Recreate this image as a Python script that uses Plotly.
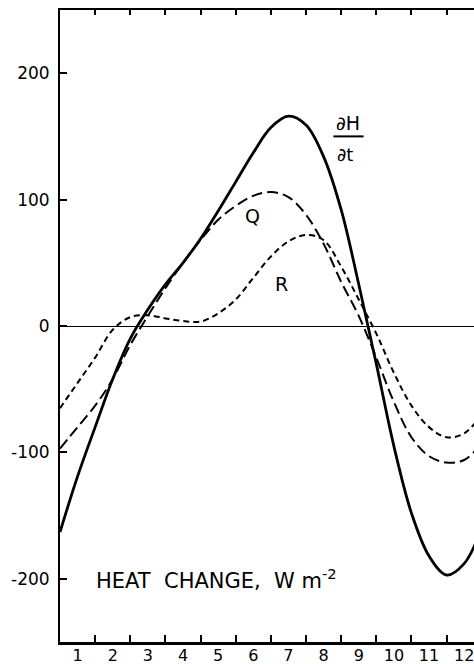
import plotly.graph_objects as go

# month axis (0 = start of month 1, 12 = end of month 12)
month_x = [0, 0.5, 1, 1.5, 2, 2.5, 3, 3.5, 4, 4.5, 5, 5.5, 6, 6.5, 7, 7.5, 8, 8.5, 9, 9.5, 10, 10.5, 11, 11.5, 12]
dHdt = [-163, -119, -80, -42, -10, 13, 33, 50, 69, 91, 114, 137, 157, 166, 159, 134, 92, 33, -30, -95, -148, -182, -197, -188, -160]
Q = [-97, -80, -63, -42, -15, 8, 30, 50, 68, 84, 95, 103, 106, 102, 88, 65, 35, 8, -25, -60, -88, -103, -108, -106, -93]
R = [-65, -45, -25, -3, 7, 8.5, 6, 4, 3.5, 10, 21, 38, 55, 67, 72, 68, 47, 21, -6, -37, -63, -80, -88, -85, -70]

month_labels = ["1", "2", "3", "4", "5", "6", "7", "8", "9", "10", "11", "12"]
month_centers = [i + 0.5 for i in range(12)]
month_bounds = list(range(1, 12))
y_ticks = [200, 100, 0, -100, -200]
y_ticktext = ["200", "100", "0", "-100", "-200"]

FONT = "DejaVu Sans"

fig = go.Figure()
fig.add_trace(go.Scatter(x=month_x, y=R, mode="lines", line=dict(color="black", width=2, dash="6px,4px", shape="spline", smoothing=1.0), xaxis="x2"))
fig.add_trace(go.Scatter(x=month_x, y=Q, mode="lines", line=dict(color="black", width=2, dash="11px,5px", shape="spline", smoothing=1.0), xaxis="x3"))
fig.add_trace(go.Scatter(x=month_x, y=dHdt, mode="lines", line=dict(color="black", width=2.8, shape="spline", smoothing=1.0)))

x_range = [0, 11.78]

fig.update_layout(
    width=474, height=664,
    margin=dict(l=60, r=0, t=10, b=22, autoexpand=False),
    paper_bgcolor="white", plot_bgcolor="white",
    showlegend=False,
    hovermode=False,
    font=dict(family=FONT, size=17, color="black"),
    # bottom month-boundary ticks and frame line
    xaxis=dict(range=x_range, tickvals=month_bounds, ticks="inside", ticklen=7, tickwidth=2,
               tickcolor="black", showticklabels=False, showline=True, linewidth=2.5,
               linecolor="black", mirror=True, showgrid=False, zeroline=False, automargin=False),
    # month labels centred between the boundary ticks
    xaxis2=dict(range=x_range, overlaying="x", side="bottom", anchor="y",
                tickvals=month_centers, ticktext=month_labels, ticks="",
                showgrid=False, zeroline=False, showline=False, automargin=False,
                ticklabeloverflow="allow", ticklabelstandoff=2,
                tickfont=dict(family=FONT, size=16)),
    # top month-boundary ticks
    xaxis3=dict(range=x_range, overlaying="x", side="top", anchor="y",
                tickvals=month_bounds, ticks="inside", ticklen=5, tickwidth=2, tickcolor="black",
                showticklabels=False, showgrid=False, zeroline=False, showline=False, automargin=False),
    yaxis=dict(range=[-250, 250], tickvals=y_ticks, ticktext=y_ticktext, ticks="inside",
               ticklen=7, tickwidth=2, tickcolor="black", showline=True, linewidth=2,
               linecolor="black", showgrid=False, zeroline=True, zerolinecolor="black",
               zerolinewidth=1, tickfont=dict(family=FONT, size=17), automargin=False,
               ticklabelstandoff=5),
)

fig.add_annotation(x=8.2, y=161, text="∂H", showarrow=False, font=dict(family=FONT, size=19))
fig.add_annotation(x=8.12, y=136, text="∂t", showarrow=False, font=dict(family=FONT, size=18))
fig.add_shape(type="line", x0=7.78, x1=8.64, y0=150, y1=150, xref="x", yref="y", line=dict(color="black", width=2))
fig.add_annotation(x=5.48, y=87, text="Q", showarrow=False, font=dict(family=FONT, size=19))
fig.add_annotation(x=6.31, y=33, text="R", showarrow=False, font=dict(family=FONT, size=19))
fig.add_annotation(x=0.97, y=-200, xanchor="left", text="HEAT  CHANGE,  W m<sup>-2</sup>", showarrow=False,
                   font=dict(family=FONT, size=21))

# remove the default page margin so the 474x664 figure fills the window exactly
fig.write_html("out.html", config={"displayModeBar": False, "staticPlot": True},
               post_script="document.body.style.margin='0';document.body.style.overflow='hidden';")
